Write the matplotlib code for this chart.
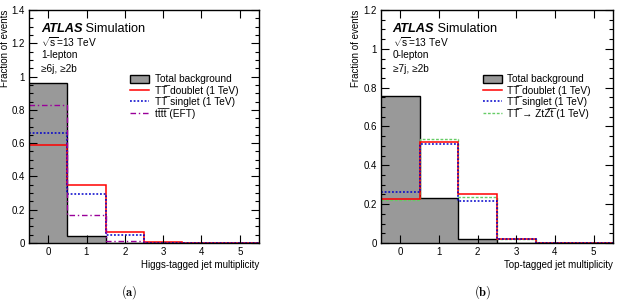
import numpy as np
import matplotlib
matplotlib.use("Agg")
import matplotlib.pyplot as plt
from matplotlib.ticker import MultipleLocator, FormatStrFormatter
from matplotlib.patches import Patch
from matplotlib.lines import Line2D

plt.rcParams['font.family'] = ['Liberation Sans', 'DejaVu Sans']
plt.rcParams['mathtext.fontset'] = 'custom'
plt.rcParams['mathtext.rm'] = 'Liberation Sans'
plt.rcParams['mathtext.it'] = 'Liberation Sans:italic'
plt.rcParams['mathtext.bf'] = 'Liberation Sans:bold'

# bin edges (multiplicity 0..5)
edges = np.arange(-0.5, 6.0, 1.0)

# (a) Higgs-tagged jet multiplicity, 1-lepton
a_bkg = [0.963, 0.040, 0.003, 0.0003, 0.0, 0.0]
a_doublet = [0.589, 0.347, 0.068, 0.004, 0.0002, 0.0]
a_singlet = [0.663, 0.296, 0.048, 0.003, 0.0, 0.0]
a_tttt = [0.828, 0.170, 0.014, 0.001, 0.0, 0.0]

# (b) Top-tagged jet multiplicity, 0-lepton
b_bkg = [0.758, 0.233, 0.020, 0.002, 0.0, 0.0]
b_doublet = [0.227, 0.520, 0.251, 0.020, 0.002, 0.0]
b_singlet = [0.264, 0.512, 0.216, 0.020, 0.002, 0.0]
b_ztzt = [0.220, 0.536, 0.235, 0.020, 0.002, 0.0]

# combining overline for the anti-particles
OL = '\u0305'
lab_bkg = 'Total background'
lab_doublet = 'TT' + OL + ' doublet (1 TeV)'
lab_singlet = 'TT' + OL + ' singlet (1 TeV)'
lab_tttt = 'tt' + OL + 'tt' + OL + ' (EFT)'
lab_ztzt = 'TT' + OL + ' → ZtZ' + OL + 't' + OL + ' (1 TeV)'

fig = plt.figure(figsize=(6.17, 3.04), dpi=100)
axa = fig.add_axes([29/617, 61/304, 230/617, 233/304])
axb = fig.add_axes([381/617, 61/304, 232/617, 233/304])


def style(ax, ymax, xlabel, ylab_x):
    ax.set_xlim(-0.5, 5.5)
    ax.set_ylim(0, ymax)
    ax.set_xticks(range(6))
    ax.yaxis.set_major_locator(MultipleLocator(0.2))
    ax.yaxis.set_minor_locator(MultipleLocator(0.05))
    ax.yaxis.set_major_formatter(FormatStrFormatter('%g'))
    ax.tick_params(which='both', direction='in', top=True, right=True,
                   labelsize=7, width=0.8, pad=3)
    ax.tick_params(which='major', length=6)
    ax.tick_params(which='minor', length=3)
    ax.tick_params(axis='x', which='minor', bottom=False, top=False)
    ax.set_xlabel(xlabel, loc='right', fontsize=7, labelpad=2)
    ax.set_ylabel('Fraction of events', loc='top', fontsize=7)
    ax.yaxis.set_label_coords(ylab_x, 1.0)
    for s in ax.spines.values():
        s.set_linewidth(1.0)


def draw_bkg(ax, vals):
    ax.stairs(vals, edges, fill=True, facecolor='#999999', edgecolor='none')
    ax.stairs(vals, edges, color='black', linewidth=1.0, baseline=None)


dots = (0, (1.2, 1.2))
dashdot = (0, (4, 2, 1, 2))
dashes = (0, (2, 1.2))

# panel (a)
draw_bkg(axa, a_bkg)
axa.stairs(a_doublet, edges, color='#ff0000', linewidth=1.1, baseline=None)
axa.stairs(a_singlet, edges, color='#0000cc', linewidth=1.1, linestyle=dots, baseline=None)
axa.stairs(a_tttt, edges, color='#990099', linewidth=1.0, linestyle=dashdot, baseline=None)
style(axa, 1.4, 'Higgs-tagged jet multiplicity', -0.082)

# panel (b)
draw_bkg(axb, b_bkg)
axb.stairs(b_ztzt, edges, color='#66cc66', linewidth=1.0, linestyle=dashes, baseline=None)
axb.stairs(b_doublet, edges, color='#ff0000', linewidth=1.1, baseline=None)
axb.stairs(b_singlet, edges, color='#0000cc', linewidth=1.1, linestyle=dots, baseline=None)
style(axb, 1.2, 'Top-tagged jet multiplicity', -0.086)

# legends
h_bkg = Patch(facecolor='#999999', edgecolor='black', linewidth=1.0)
h_doub = Line2D([], [], color='#ff0000', linewidth=1.1)
h_sing = Line2D([], [], color='#0000cc', linewidth=1.1, linestyle=dots)
h_tttt = Line2D([], [], color='#990099', linewidth=1.0, linestyle=dashdot)
h_ztzt = Line2D([], [], color='#66cc66', linewidth=1.0, linestyle=dashes)

leg_kw = dict(loc='upper left', frameon=False, fontsize=7.3, borderpad=0,
              borderaxespad=0, labelspacing=0.06, handlelength=1.9,
              handleheight=0.9, handletextpad=0.5)
axa.legend([h_bkg, h_doub, h_sing, h_tttt],
           [lab_bkg, lab_doublet, lab_singlet, lab_tttt],
           bbox_to_anchor=(0.44, 0.724), **leg_kw)
axb.legend([h_bkg, h_doub, h_sing, h_ztzt],
           [lab_bkg, lab_doublet, lab_singlet, lab_ztzt],
           bbox_to_anchor=(0.438, 0.724), **leg_kw)

# ATLAS labels
for ax, x0, lines in [(axa, 0.052, ['1-lepton', '≥6j, ≥2b']),
                      (axb, 0.05, ['0-lepton', '≥7j, ≥2b'])]:
    t = ax.text(x0, 0.918, 'ATLAS', transform=ax.transAxes, fontsize=9.2,
                fontweight='bold', fontstyle='italic', va='center')
    ax.annotate(' Simulation', xy=(1, 0.5), xycoords=t, fontsize=9.2,
                va='center', ha='left')
    ax.text(x0, 0.862, r'$\sqrt{\rm s}$=13 TeV', transform=ax.transAxes,
            fontsize=7.3, va='center')
    ax.text(x0, 0.805, lines[0], transform=ax.transAxes, fontsize=7.3, va='center')
    ax.text(x0, 0.747, lines[1], transform=ax.transAxes, fontsize=7.3, va='center')

# captions
fig.text(129/617, 0.04, r'$\mathbf{(a)}$', ha='center', va='center',
         fontsize=9, math_fontfamily='cm')
fig.text(483/617, 0.04, r'$\mathbf{(b)}$', ha='center', va='center',
         fontsize=9, math_fontfamily='cm')

fig.savefig('out.png', dpi=100)
